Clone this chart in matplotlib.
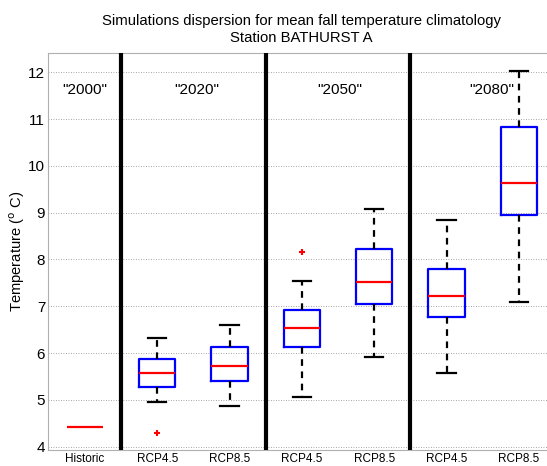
import matplotlib
matplotlib.use("Agg")
import matplotlib.pyplot as plt

plt.rcParams['font.family'] = ['Liberation Sans', 'DejaVu Sans']

# Category labels along the x axis
tick_labels = ["Historic", "RCP4.5", "RCP8.5", "RCP4.5", "RCP8.5", "RCP4.5", "RCP8.5"]
period_labels = ['"2000"', '"2020"', '"2050"', '"2080"']
period_x = [1.0, 2.55, 4.53, 6.63]

# Historic climatology (single value)
historic_value = 4.42

# Box statistics for the scenario simulations (positions 2..7)
whislo = [4.95, 4.87, 5.06, 5.91, 5.57, 7.10]
q1 =     [5.28, 5.40, 6.14, 7.04, 6.78, 8.95]
med =    [5.58, 5.72, 6.53, 7.51, 7.22, 9.64]
q3 =     [5.87, 6.12, 6.93, 8.22, 7.80, 10.83]
whishi = [6.33, 6.59, 7.54, 9.08, 8.84, 12.03]
fliers = [[4.30], [], [8.16], [], [], []]

W, H = 547, 466
fig = plt.figure(figsize=(W / 100, H / 100), dpi=100)
ax = fig.add_axes([48 / W, 16 / H, (555 - 48) / W, (450 - 53) / H])

stats = []
for i in range(len(med)):
    stats.append(dict(whislo=whislo[i], q1=q1[i], med=med[i], q3=q3[i],
                      whishi=whishi[i], fliers=fliers[i]))

ax.bxp(stats, positions=list(range(2, 2 + len(stats))), widths=0.5,
       showfliers=True,
       boxprops=dict(color='#0000ff', linewidth=1.6),
       medianprops=dict(color='#ff0000', linewidth=1.6),
       whiskerprops=dict(color='black', linewidth=1.6, linestyle=(0, (3, 2.5))),
       capprops=dict(color='black', linewidth=1.6),
       flierprops=dict(marker='+', markeredgecolor='#ff0000', markersize=4,
                       markeredgewidth=1.5),
       capwidths=0.25)

# Historic value drawn as a median line
ax.hlines(historic_value, 1 - 0.25, 1 + 0.25, color='#ff0000', linewidth=1.6)

# Period separators
for xs in [1.5, 3.5, 5.5]:
    ax.axvline(xs, color='black', linewidth=3.0, zorder=3)

for x, lab in zip(period_x, period_labels):
    ax.text(x, 11.62, lab, ha='center', va='center', fontsize=11)

ax.set_xlim(0.49, 7.5)
ax.set_ylim(3.93, 12.41)
ax.set_xticks(range(1, 8))
ax.set_xticklabels(tick_labels, fontsize=8.5)
ax.set_yticks(range(4, 13))
ax.tick_params(axis='y', labelsize=11, length=0, pad=2)
ax.tick_params(axis='x', length=0, pad=2.5)

ax.yaxis.grid(True, linestyle=(0, (1, 2)), color='#888888', linewidth=0.6)
ax.set_axisbelow(True)
for s in ax.spines.values():
    s.set_color('#b0b0b0')
    s.set_linewidth(0.8)

ax.set_ylabel(r'Temperature ($^{\mathrm{o}}$ C)', fontsize=10.6, labelpad=1)
ax.set_title("Simulations dispersion for mean fall temperature climatology\nStation BATHURST A",
             fontsize=10.7, pad=8, linespacing=1.25)

fig.savefig("out.png", dpi=100)
